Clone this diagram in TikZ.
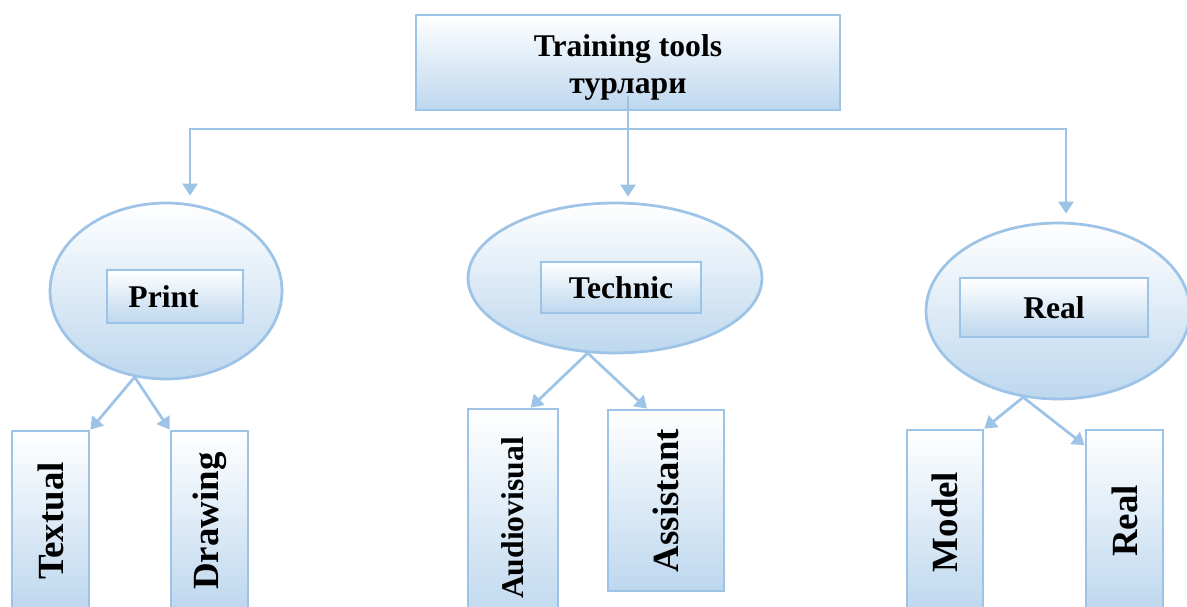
\documentclass[tikz,border=0pt]{standalone}
\usepackage{fontspec}
\usepackage{graphicx}
\setmainfont{Liberation Serif}
\usetikzlibrary{%
  arrows.meta,%
  calc,%
  shapes.geometric%
}
\definecolor{lineblue}{RGB}{157,195,230}
\definecolor{fillblue}{RGB}{189,215,238}
\tikzset{>={Triangle[length=0.24cm,width=0.3cm]}}
\tikzset{
  box/.style={draw=lineblue,line width=0.055cm,top color=white,bottom color=fillblue,
    inner sep=0pt,font=\bfseries\fontsize{18}{21}\selectfont},
  vbox/.style={box,font=\bfseries\fontsize{21}{24}\selectfont},
  oval/.style={box,ellipse},
  link/.style={draw=lineblue,line width=0.055cm,->}
}

\begin{document}
\begin{tikzpicture}[x=0.02cm,y=-0.02cm]
  \useasboundingbox (0,0) rectangle (1187,607);
  \clip (0,0) rectangle (1187,607);
  \node[box,minimum width=8.48cm,minimum height=1.9cm,align=center,text height=39pt] (tools) at (628,62.5) {Training tools\\турлари};
  \node[oval,minimum width=4.64cm,minimum height=3.52cm] (printov) at (166,291) {};
  \node[oval,minimum width=5.88cm,minimum height=3cm] (techov) at (615,278) {};
  \node[oval,minimum width=5.28cm,minimum height=3.52cm] (realov) at (1058,311) {};
  \node[box,minimum width=2.72cm,minimum height=1.06cm] (printlbl) at (175,296.5) {Print\hspace*{13pt}};
  \node[box,minimum width=3.2cm,minimum height=1.02cm] (techlbl) at (621,287.5) {Technic};
  \node[box,minimum width=3.76cm,minimum height=1.18cm] (reallbl) at (1054,307.5) {Real};
  \node[vbox,minimum width=1.54cm,minimum height=3.6cm] (textual) at (50.5,521) {\rotatebox{90}{Textual}};
  \node[vbox,minimum width=1.54cm,minimum height=3.6cm] (drawing) at (209.5,521) {\rotatebox{90}{Drawing}};
  \node[box,minimum width=1.8cm,minimum height=4.36cm] (audio) at (513,518) {\rotatebox{90}{Audiovisual}};
  \node[vbox,minimum width=2.32cm,minimum height=3.62cm] (assist) at (666,500.5) {\rotatebox{90}{Assistant}};
  \node[vbox,minimum width=1.52cm,minimum height=3.68cm] (model) at (945,522) {\rotatebox{90}{Model}};
  \node[vbox,minimum width=1.54cm,minimum height=3.64cm] (realbox) at (1124.5,521) {\rotatebox{90}{Real}};
  \coordinate (barL) at (190,129);
  \coordinate (barR) at (1066,129);
  \draw[link,<->,shorten <=0.12cm,shorten >=0.16cm] (barL |- printov.north) -- (barL) -- (barR) -- (barR |- realov.north);
  \draw[link,shorten >=0.1cm] ($(tools.south)+(0,-15)$) -- (tools.south |- techov.north);
  \draw[link] (printov.250) -- (textual.north east);
  \draw[link] (printov.250) -- (drawing.north west);
  \draw[link] (techov.250) -- ($(audio.north west)!0.69!(audio.north east)$);
  \draw[link] (techov.250) -- ($(assist.north west)!0.34!(assist.north east)$);
  \draw[link] (realov.248) -- (model.north east);
  \draw[link] (realov.248) -- ($(realbox.north west)!0.09!(realbox.south west)$);
\end{tikzpicture}
\end{document}
